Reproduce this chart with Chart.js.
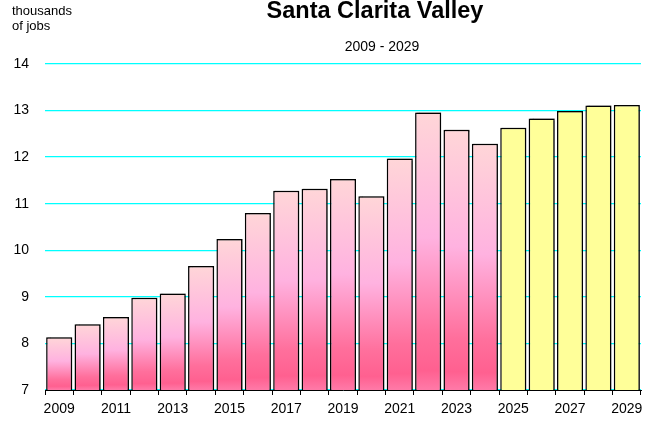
<!DOCTYPE html>
<html>
<head>
<meta charset="utf-8">
<script src="https://cdn.jsdelivr.net/npm/chart.js@4/dist/chart.umd.min.js"></script>
<style>
  html, body { margin: 0; padding: 0; background: #fff; }
  #wrap { width: 656px; height: 422px; position: relative; }
</style>
</head>
<body>
<div id="wrap"><canvas id="chart" width="656" height="422"></canvas></div>
<script>
const years = ['2009','2010','2011','2012','2013','2014','2015','2016','2017','2018','2019',
               '2020','2021','2022','2023','2024','2025','2026','2027','2028','2029'];
const jobs = [8.13, 8.41, 8.57, 8.98, 9.07, 9.66, 10.24, 10.80, 11.28, 11.32, 11.53,
              11.16, 11.97, 12.96, 12.59, 12.29, 12.63, 12.83, 12.99, 13.11, 13.12];
const firstForecast = 16; // 2025 onward is forecast
const yMin = 7, yMax = 14;

const FONT = '"Liberation Sans", Arial, sans-serif';

function barFill(ctx) {
  const chart = ctx.chart;
  if (ctx.dataIndex >= firstForecast) return '#ffff99';
  const area = chart.chartArea;
  if (!area) return '#ffb0d8';
  const y = chart.scales.y;
  const top = y.getPixelForValue(jobs[ctx.dataIndex]);
  const bottom = y.getPixelForValue(yMin);
  const g = chart.ctx.createLinearGradient(0, top, 0, bottom);
  g.addColorStop(0, '#ffd6d8');
  g.addColorStop(0.45, '#ffb2e0');
  g.addColorStop(0.8, '#ff6f9c');
  g.addColorStop(0.93, '#ff6090');
  g.addColorStop(1, '#ff7aa8');
  return g;
}

// soft grey drop shadow like the original bars
const shadowPlugin = {
  id: 'barShadow',
  beforeDatasetsDraw(chart) {
    const c = chart.ctx;
    c.save();
    c.shadowColor = 'rgba(0,0,0,0.35)';
    c.shadowOffsetX = 1.5;
    c.shadowOffsetY = -1.5;
    c.shadowBlur = 1;
  },
  afterDatasetsDraw(chart) {
    chart.ctx.restore();
  }
};

const textPlugin = {
  id: 'texts',
  afterDraw(chart) {
    const c = chart.ctx;
    c.save();
    c.fillStyle = '#000';
    c.textBaseline = 'alphabetic';
    c.textAlign = 'left';
    c.font = '13px ' + FONT;
    c.fillText('thousands', 12, 15);
    c.fillText('of jobs', 12, 30);
    c.textAlign = 'center';
    c.font = 'bold 23.5px ' + FONT;
    c.fillText('Santa Clarita Valley', 375, 18);
    c.font = '14px ' + FONT;
    c.fillText('2009 - 2029', 382, 51);
    c.restore();
  }
};

new Chart(document.getElementById('chart'), {
  type: 'bar',
  data: {
    labels: years,
    datasets: [{
      data: jobs,
      backgroundColor: barFill,
      borderColor: '#000',
      borderWidth: 1.5,
      borderSkipped: false,
      barPercentage: 0.92,
      categoryPercentage: 1
    }]
  },
  options: {
    responsive: false,
    animation: false,
    layout: { padding: { top: 64, right: 15, left: 0, bottom: 0 } },
    plugins: { legend: { display: false }, tooltip: { enabled: false } },
    scales: {
      x: {
        grid: { offset: true, drawOnChartArea: false, drawTicks: true, tickLength: 5, color: '#000' },
        border: { display: true, color: '#000', width: 1 },
        ticks: {
          autoSkip: false,
          maxRotation: 0,
          padding: 6,
          color: '#000',
          font: { family: FONT, size: 14 },
          callback: (v, i) => (i % 2 === 0 ? years[i] : '')
        },
        afterFit: s => { s.height = 32; }
      },
      y: {
        min: yMin,
        max: yMax,
        grid: { color: 'rgb(0,255,255)', lineWidth: 1.3, drawTicks: false },
        border: { display: false },
        ticks: {
          stepSize: 1,
          padding: 16,
          color: '#000',
          font: { family: FONT, size: 14 }
        },
        afterFit: s => { s.width = 45; }
      }
    }
  },
  plugins: [shadowPlugin, textPlugin]
});
</script>
</body>
</html>
